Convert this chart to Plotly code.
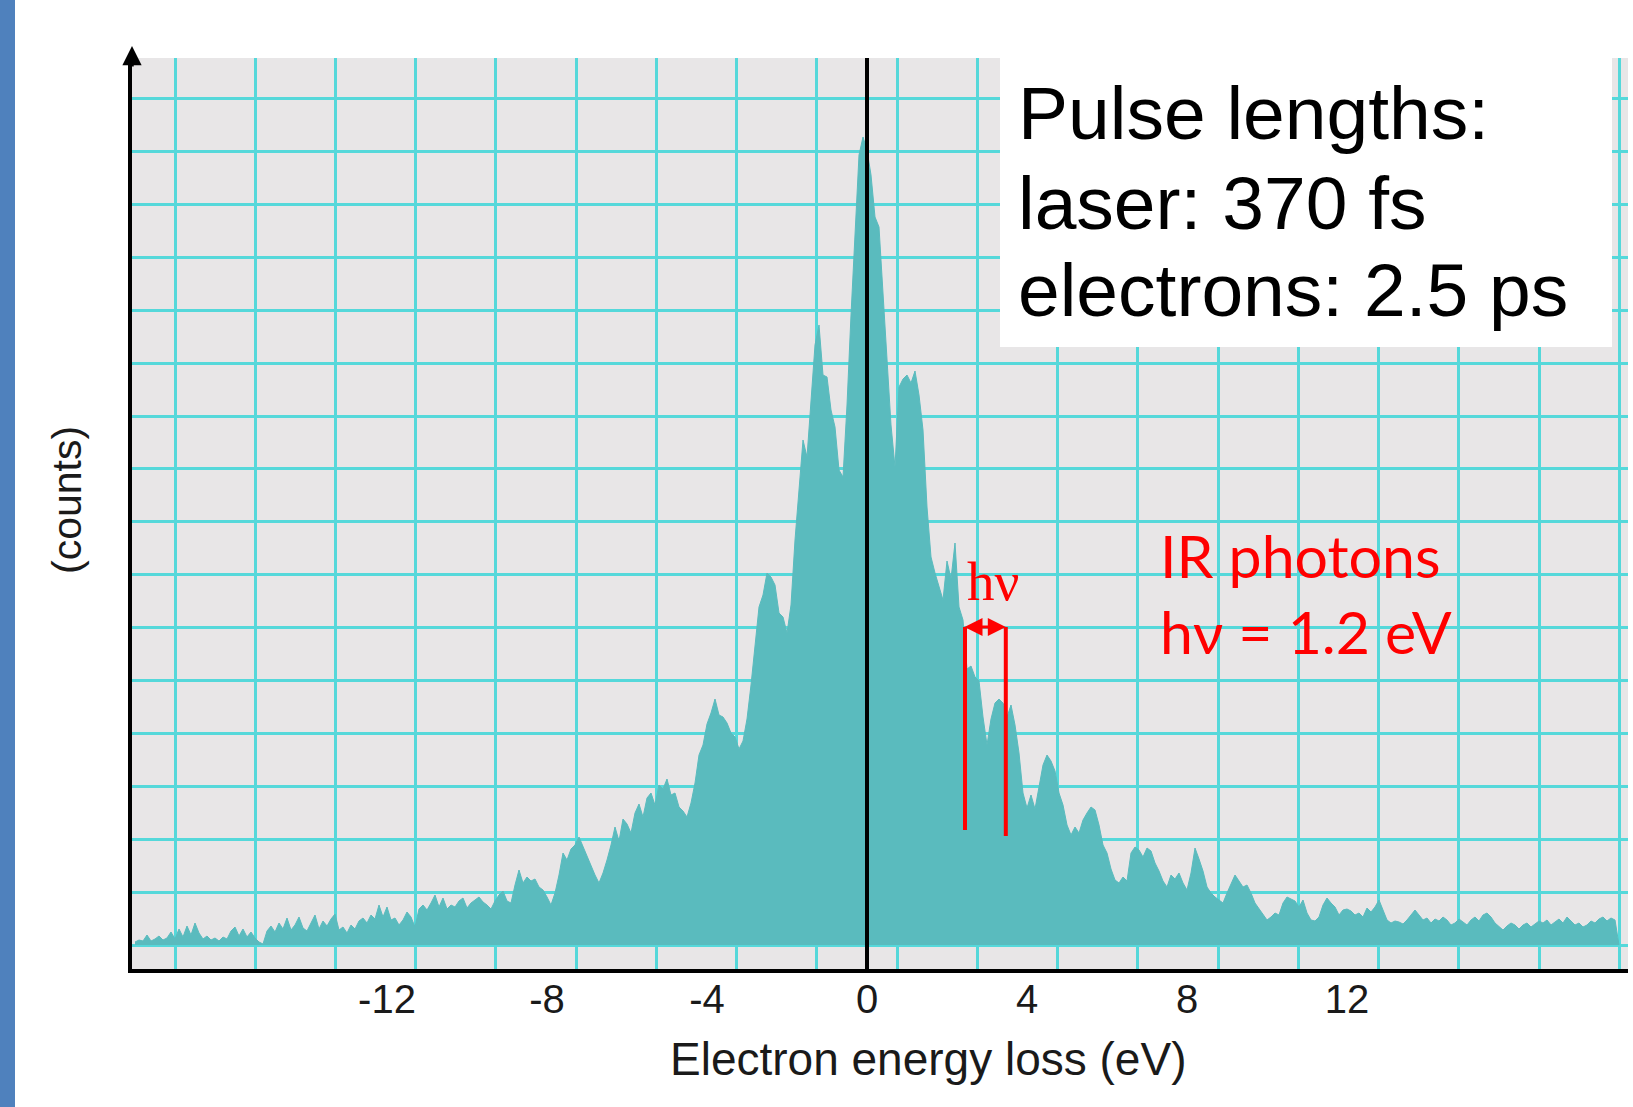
import plotly.graph_objects as go

# ---------------- data ----------------
ENERGY_EV = [
    -18.3, -18.2, -18.1, -18.0, -17.9, -17.8, -17.7, -17.6, -17.5, -17.4,
    -17.3, -17.2, -17.1, -17.0, -16.9, -16.8, -16.7, -16.6, -16.5, -16.4,
    -16.3, -16.2, -16.1, -16.0, -15.9, -15.8, -15.7, -15.6, -15.5, -15.4,
    -15.3, -15.2, -15.1, -15.0, -14.9, -14.8, -14.7, -14.6, -14.5, -14.4,
    -14.3, -14.2, -14.1, -14.0, -13.9, -13.8, -13.7, -13.6, -13.5, -13.4,
    -13.3, -13.2, -13.1, -13.0, -12.9, -12.8, -12.7, -12.6, -12.5, -12.4,
    -12.3, -12.2, -12.1, -12.0, -11.9, -11.8, -11.7, -11.6, -11.5, -11.4,
    -11.3, -11.2, -11.1, -11.0, -10.9, -10.8, -10.7, -10.6, -10.5, -10.4,
    -10.3, -10.2, -10.1, -10.0, -9.9, -9.8, -9.7, -9.6, -9.5, -9.4,
    -9.3, -9.2, -9.1, -9.0, -8.9, -8.8, -8.7, -8.6, -8.5, -8.4,
    -8.3, -8.2, -8.1, -8.0, -7.9, -7.8, -7.7, -7.6, -7.5, -7.4,
    -7.3, -7.2, -7.1, -7.0, -6.9, -6.8, -6.7, -6.6, -6.5, -6.4,
    -6.3, -6.2, -6.1, -6.0, -5.9, -5.8, -5.7, -5.6, -5.5, -5.4,
    -5.3, -5.2, -5.1, -5.0, -4.9, -4.8, -4.7, -4.6, -4.5, -4.4,
    -4.3, -4.2, -4.1, -4.0, -3.9, -3.8, -3.7, -3.6, -3.5, -3.4,
    -3.3, -3.2, -3.1, -3.0, -2.9, -2.8, -2.7, -2.6, -2.5, -2.4,
    -2.3, -2.2, -2.1, -2.0, -1.9, -1.8, -1.7, -1.6, -1.5, -1.4,
    -1.3, -1.2, -1.1, -1.0, -0.9, -0.8, -0.7, -0.6, -0.5, -0.4,
    -0.3, -0.2, -0.1, 0.0, 0.1, 0.2, 0.3, 0.4, 0.5, 0.6,
    0.7, 0.8, 0.9, 1.0, 1.1, 1.2, 1.3, 1.4, 1.5, 1.6,
    1.7, 1.8, 1.9, 2.0, 2.1, 2.2, 2.3, 2.4, 2.5, 2.6,
    2.7, 2.8, 2.9, 3.0, 3.1, 3.2, 3.3, 3.4, 3.5, 3.6,
    3.7, 3.8, 3.9, 4.0, 4.1, 4.2, 4.3, 4.4, 4.5, 4.6,
    4.7, 4.8, 4.9, 5.0, 5.1, 5.2, 5.3, 5.4, 5.5, 5.6,
    5.7, 5.8, 5.9, 6.0, 6.1, 6.2, 6.3, 6.4, 6.5, 6.6,
    6.7, 6.8, 6.9, 7.0, 7.1, 7.2, 7.3, 7.4, 7.5, 7.6,
    7.7, 7.8, 7.9, 8.0, 8.1, 8.2, 8.3, 8.4, 8.5, 8.6,
    8.7, 8.8, 8.9, 9.0, 9.1, 9.2, 9.3, 9.4, 9.5, 9.6,
    9.7, 9.8, 9.9, 10.0, 10.1, 10.2, 10.3, 10.4, 10.5, 10.6,
    10.7, 10.8, 10.9, 11.0, 11.1, 11.2, 11.3, 11.4, 11.5, 11.6,
    11.7, 11.8, 11.9, 12.0, 12.1, 12.2, 12.3, 12.4, 12.5, 12.6,
    12.7, 12.8, 12.9, 13.0, 13.1, 13.2, 13.3, 13.4, 13.5, 13.6,
    13.7, 13.8, 13.9, 14.0, 14.1, 14.2, 14.3, 14.4, 14.5, 14.6,
    14.7, 14.8, 14.9, 15.0, 15.1, 15.2, 15.3, 15.4, 15.5, 15.6,
    15.7, 15.8, 15.9, 16.0, 16.1, 16.2, 16.3, 16.4, 16.5, 16.6,
    16.7, 16.8, 16.9, 17.0, 17.1, 17.2, 17.3, 17.4, 17.5, 17.6,
    17.7, 17.8, 17.9, 18.0, 18.1, 18.2, 18.3, 18.4, 18.5, 18.6,
    18.7, 18.8,
]

COUNTS = [
    # -18.3 ... -15.1
    3, 5, 4, 10, 4, 6, 9, 5, 7, 13, 6, 16, 8, 19, 10, 22, 12, 6, 9, 5,
    7, 4, 8, 6, 14, 18, 9, 16, 8, 13, 7, 3, 1,
    # -15.0 ... -11.7
    14, 19, 13, 22, 16, 27, 15, 20, 28, 17, 14, 22, 30, 16, 24, 19, 26, 31, 15, 18,
    12, 20, 16, 24, 27, 22, 30, 26, 40, 28, 38, 25, 27, 20,
    # -11.6 ... -6.4
    25, 33, 28, 18, 36, 40, 35, 42, 50, 38, 47, 36, 40, 38, 44, 47, 37, 42, 45, 48,
    43, 40, 36, 44, 50, 54, 44, 42, 60, 75, 62, 68, 64, 66, 58, 55, 48, 40, 52, 70,
    92, 85, 96, 100, 108, 98, 88, 78, 70, 62, 72, 85, 100,
    # -6.3 ... 0.0
    118, 104, 126, 121, 112, 132, 141, 128, 147, 152, 140, 160, 156, 166, 150, 152,
    138, 134, 128, 142, 162, 190, 200, 221, 232, 246, 230, 228, 222, 212, 208, 196,
    204, 226, 260, 296, 338, 350, 372, 368, 360, 332, 328, 312, 340, 405, 455, 505,
    488, 548, 600, 620, 570, 568, 535, 518, 475, 468, 540, 630, 715, 790, 808, 795,
    # 0.1 ... 5.0
    770, 728, 718, 650, 590, 520, 478, 558, 566, 570, 562, 574, 550, 515, 438, 388,
    372, 358, 345, 384, 366, 402, 338, 325, 276, 279, 268, 264, 228, 200, 226, 242,
    246, 242, 228, 240, 220, 192, 152, 137, 150, 136, 158, 180, 190, 184, 174, 152,
    140, 120,
    # 5.1 ... 18.8
    110, 118, 112, 125, 132, 138, 135, 120, 100, 92, 76, 65, 62, 68, 64, 92, 98, 95, 88, 97,
    94, 82, 74, 64, 58, 70, 66, 72, 62, 55, 72, 97, 86, 74, 58, 52, 48, 45, 42, 52,
    62, 70, 64, 58, 60, 52, 42, 36, 30, 25, 28, 32, 30, 42, 48, 46, 44, 38, 45, 32,
    25, 24, 28, 40, 47, 42, 38, 30, 35, 36, 34, 30, 32, 28, 37, 33, 38, 45, 35, 25,
    22, 24, 23, 21, 25, 30, 35, 30, 25, 27, 22, 26, 24, 28, 25, 20, 22, 26, 23, 20,
    25, 28, 24, 30, 32, 28, 22, 18, 15, 19, 22, 20, 16, 20, 22, 18, 21, 24, 22, 25,
    20, 23, 26, 22, 28, 24, 20, 22, 18, 20, 24, 22, 26, 28, 24, 27, 25, 0,
]

TICK_VALUES = [-12, -8, -4, 0, 4, 8, 12]
TICK_LABELS = ["-12", "-8", "-4", "0", "4", "8", "12"]

X_TITLE = "Electron energy loss (eV)"
Y_TITLE = "(counts)"
BOX_LINES = ["Pulse lengths:", "laser: 370 fs", "electrons: 2.5 ps"]
IR_LINES = ["IR photons", "h\u03bd = 1.2 eV"]
HNU_LABEL = "h\u03bd"
HNU_LEFT_EV = 2.45      # left marker of one photon-energy step
HNU_RIGHT_EV = 3.47     # right marker
HNU_TOP = 318
HNU_BOTTOM_LEFT = 115
HNU_BOTTOM_RIGHT = 109

# ---------------- style / layout ----------------
W, H = 1633, 1107
ML, MR, MT, MB = 132, 5, 58, 138
PW, PH = W - ML - MR, H - MT - MB
X_RANGE = [-18.375, 19.025]
Y_RANGE = [-24, 887]

TEAL = "#5abbbe"
GRID = "#55d8da"
PLOT_BG = "#e8e6e7"
SIDE_BLUE = "#4f81bd"
RED = "#ff0000"
SANS = "Liberation Sans, Arial, sans-serif"


def px_x(p):
    return (p - ML) / PW


def px_y(p):
    return (H - MB - p) / PH


fig = go.Figure()
fig.add_trace(go.Scatter(
    x=ENERGY_EV, y=COUNTS, mode="lines",
    line=dict(color=TEAL, width=1),
    fill="tozeroy", fillcolor=TEAL,
    hoverinfo="skip", showlegend=False,
))

shapes = [
    # left blue slide bar
    dict(type="rect", xref="paper", yref="paper",
         x0=px_x(0), x1=px_x(15), y0=px_y(H), y1=px_y(0),
         fillcolor=SIDE_BLUE, line=dict(width=0), layer="above"),
    # zero-loss vertical line
    dict(type="line", xref="x", yref="paper", x0=0, x1=0, y0=0, y1=1,
         line=dict(color="black", width=4)),
    # white text box
    dict(type="rect", xref="paper", yref="paper",
         x0=px_x(1000), x1=px_x(1612), y0=px_y(347), y1=px_y(57),
         fillcolor="white", line=dict(width=0), layer="above"),
    # h-nu bracket
    dict(type="line", xref="x", yref="y", x0=HNU_LEFT_EV, x1=HNU_LEFT_EV,
         y0=HNU_BOTTOM_LEFT, y1=HNU_TOP, line=dict(color=RED, width=4)),
    dict(type="line", xref="x", yref="y", x0=HNU_RIGHT_EV, x1=HNU_RIGHT_EV,
         y0=HNU_BOTTOM_RIGHT, y1=HNU_TOP, line=dict(color=RED, width=4)),
]

annotations = []
# axis titles
annotations.append(dict(text=X_TITLE, xref="paper", yref="paper",
                        x=px_x(928), y=px_y(1059), xanchor="center", yanchor="middle",
                        showarrow=False, font=dict(family=SANS, size=46, color="#1a1a1a")))
annotations.append(dict(text=Y_TITLE, xref="paper", yref="paper", textangle=-90,
                        x=px_x(67), y=px_y(500), xanchor="center", yanchor="middle",
                        showarrow=False, font=dict(family=SANS, size=41, color="#1a1a1a")))
# box text
for line, yc in zip(BOX_LINES, [113, 203, 290]):
    annotations.append(dict(text=line, xref="paper", yref="paper",
                            x=px_x(1016), y=px_y(yc), xanchor="left", yanchor="middle",
                            showarrow=False, font=dict(family=SANS, size=75, color="black")))
# red IR text
for line, yc in zip(IR_LINES, [555, 631]):
    annotations.append(dict(text=line, xref="paper", yref="paper",
                            x=px_x(1158), y=px_y(yc), xanchor="left", yanchor="middle",
                            showarrow=False, font=dict(family="Lato, sans-serif", size=59, color=RED)))
# h-nu label
annotations.append(dict(text=HNU_LABEL, xref="x", yref="y",
                        x=(HNU_LEFT_EV + HNU_RIGHT_EV) / 2 + 0.18, y=HNU_TOP + 46,
                        xanchor="center", yanchor="middle", showarrow=False,
                        font=dict(family="Liberation Serif, Times New Roman, serif", size=55, color=RED)))
# double arrow between the bracket lines
annotations.append(dict(text="", xref="x", yref="y", axref="x", ayref="y",
                        x=HNU_RIGHT_EV, y=HNU_TOP, ax=HNU_LEFT_EV - 0.05, ay=HNU_TOP,
                        showarrow=True, arrowhead=2, arrowside="end+start",
                        arrowsize=1.2, arrowwidth=3, arrowcolor=RED))
# arrow on top of y axis
annotations.append(dict(text="", xref="paper", yref="paper",
                        x=0, y=px_y(46), ax=0, ay=22,
                        showarrow=True, arrowhead=2, arrowsize=1.1, arrowwidth=3.5,
                        arrowcolor="black"))

fig.update_layout(
    width=W, height=H,
    margin=dict(l=ML, r=MR, t=MT, b=MB, pad=0),
    paper_bgcolor="white", plot_bgcolor=PLOT_BG,
    font=dict(family=SANS, color="#1a1a1a"),
    shapes=shapes, annotations=annotations,
    showlegend=False,
)
fig.update_xaxes(
    range=X_RANGE, tickmode="array", tickvals=TICK_VALUES, ticktext=TICK_LABELS,
    showgrid=False, zeroline=False, ticks="",
    tickfont=dict(family=SANS, size=40, color="#1a1a1a"),
    ticklabelstandoff=-8,
    showline=True, linecolor="black", linewidth=4,
    minor=dict(tickmode="linear", tick0=-17.3, dtick=2.006, showgrid=True,
               gridcolor=GRID, gridwidth=3, ticks=""),
)
fig.update_yaxes(
    range=Y_RANGE, tick0=0, dtick=52.9, showticklabels=False, ticks="",
    showgrid=True, gridcolor=GRID, gridwidth=3, zeroline=False,
    showline=True, linecolor="black", linewidth=4,
)

fig.write_html("out.html", config={"displayModeBar": False},
               post_script="document.body.style.margin='0';document.body.style.overflow='hidden';")
